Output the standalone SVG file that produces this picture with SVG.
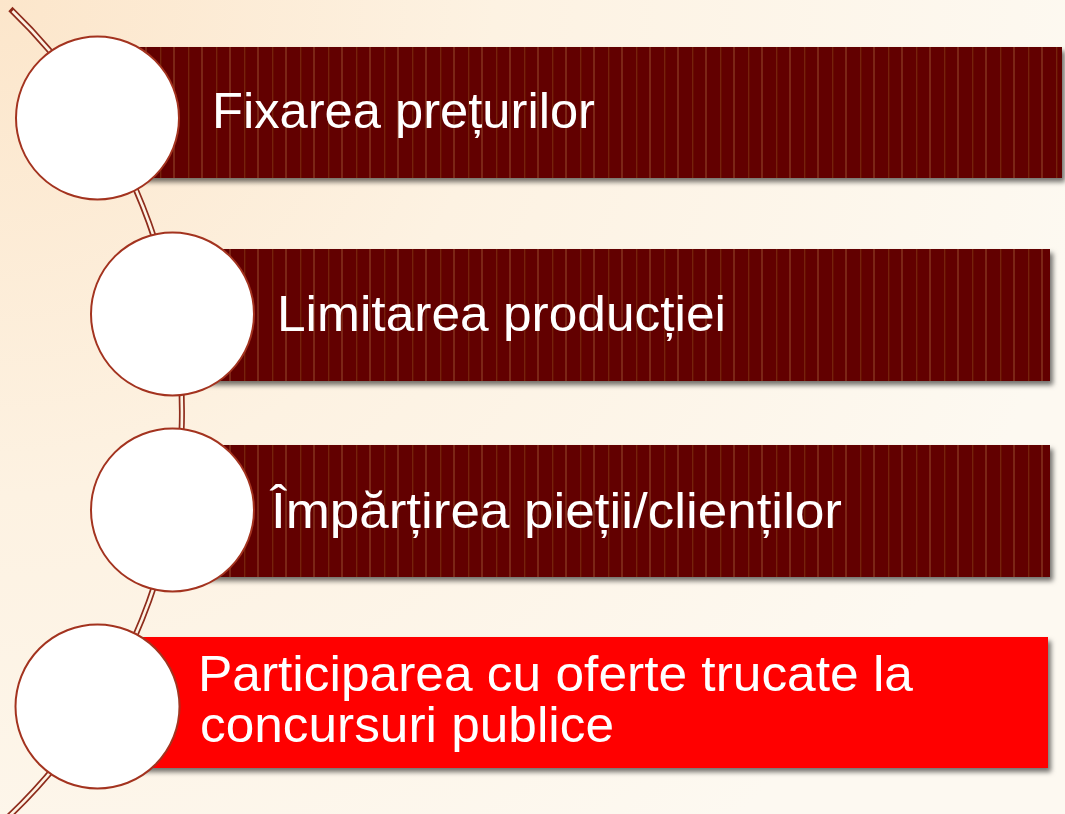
<svg xmlns="http://www.w3.org/2000/svg" width="1065" height="814" viewBox="0 0 1065 814">
<defs>
  <radialGradient id="bg" cx="0" cy="0" r="1100" gradientUnits="userSpaceOnUse">
    <stop offset="0" stop-color="#FCE6CB"/>
    <stop offset="0.45" stop-color="#FDF2E2"/>
    <stop offset="1" stop-color="#FDF9F1"/>
  </radialGradient>
  <pattern id="stripes" x="5" y="0" width="28" height="10" patternUnits="userSpaceOnUse">
    <rect x="0" y="0" width="28" height="10" fill="#620000"/>
    <rect x="0" y="0" width="2" height="10" fill="#7C2516"/>
    <rect x="15" y="0" width="1.3" height="10" fill="#76200F"/>
  </pattern>
  <filter id="shadow" x="-5%" y="-10%" width="115%" height="130%">
    <feDropShadow dx="3" dy="4" stdDeviation="2.5" flood-color="#000" flood-opacity="0.55"/>
  </filter>
  <style>
    .bar { filter: url(#shadow); }
    .dark { fill: url(#stripes); }
    .red { fill: #FF0000; }
    .dot { fill: #FFFFFF; stroke: #A3331F; stroke-width: 2; }
    .lbl { font-family: "Liberation Sans", Arial, sans-serif; font-size: 50px; fill: #FFFFFF; lengthAdjust: spacingAndGlyphs; }
    .outer { fill: none; stroke: #8E2C1C; stroke-width: 6; }
    .inner { fill: none; stroke: #FDF3E4; stroke-width: 2.6; }
  </style>
</defs>
<rect x="0" y="0" width="1065" height="814" fill="url(#bg)"/>
<g id="connectors">
  <path class="outer" d="M 10.4 9 A 559 559 0 0 1 -6 830"/>
  <path class="inner" d="M 12.5 11 A 559 559 0 0 1 -6 830"/>
</g>
<g id="node1">
  <rect class="bar dark" x="98" y="47" width="964" height="131"/>
  <circle class="dot" cx="97.5" cy="118" r="81.5"/>
  <text class="lbl" x="212" y="128" textLength="383" lengthAdjust="spacingAndGlyphs">Fixarea prețurilor</text>
</g>
<g id="node2">
  <rect class="bar dark" x="172" y="249" width="878" height="132"/>
  <circle class="dot" cx="172.5" cy="314" r="81.5"/>
  <text class="lbl" x="277" y="331" textLength="449" lengthAdjust="spacingAndGlyphs">Limitarea producției</text>
</g>
<g id="node3">
  <rect class="bar dark" x="172" y="445" width="878" height="132"/>
  <circle class="dot" cx="172.5" cy="510" r="81.5"/>
  <text class="lbl" x="271" y="528" textLength="571" lengthAdjust="spacingAndGlyphs">Împărțirea pieții/clienților</text>
</g>
<g id="node4">
  <rect class="bar red" x="98" y="637" width="950" height="131"/>
  <circle class="dot" cx="97.5" cy="706.5" r="82"/>
  <text class="lbl" x="198" y="691" textLength="715" lengthAdjust="spacingAndGlyphs">Participarea cu oferte trucate la</text>
  <text class="lbl" x="200" y="742" textLength="414" lengthAdjust="spacingAndGlyphs">concursuri publice</text>
</g>
</svg>
